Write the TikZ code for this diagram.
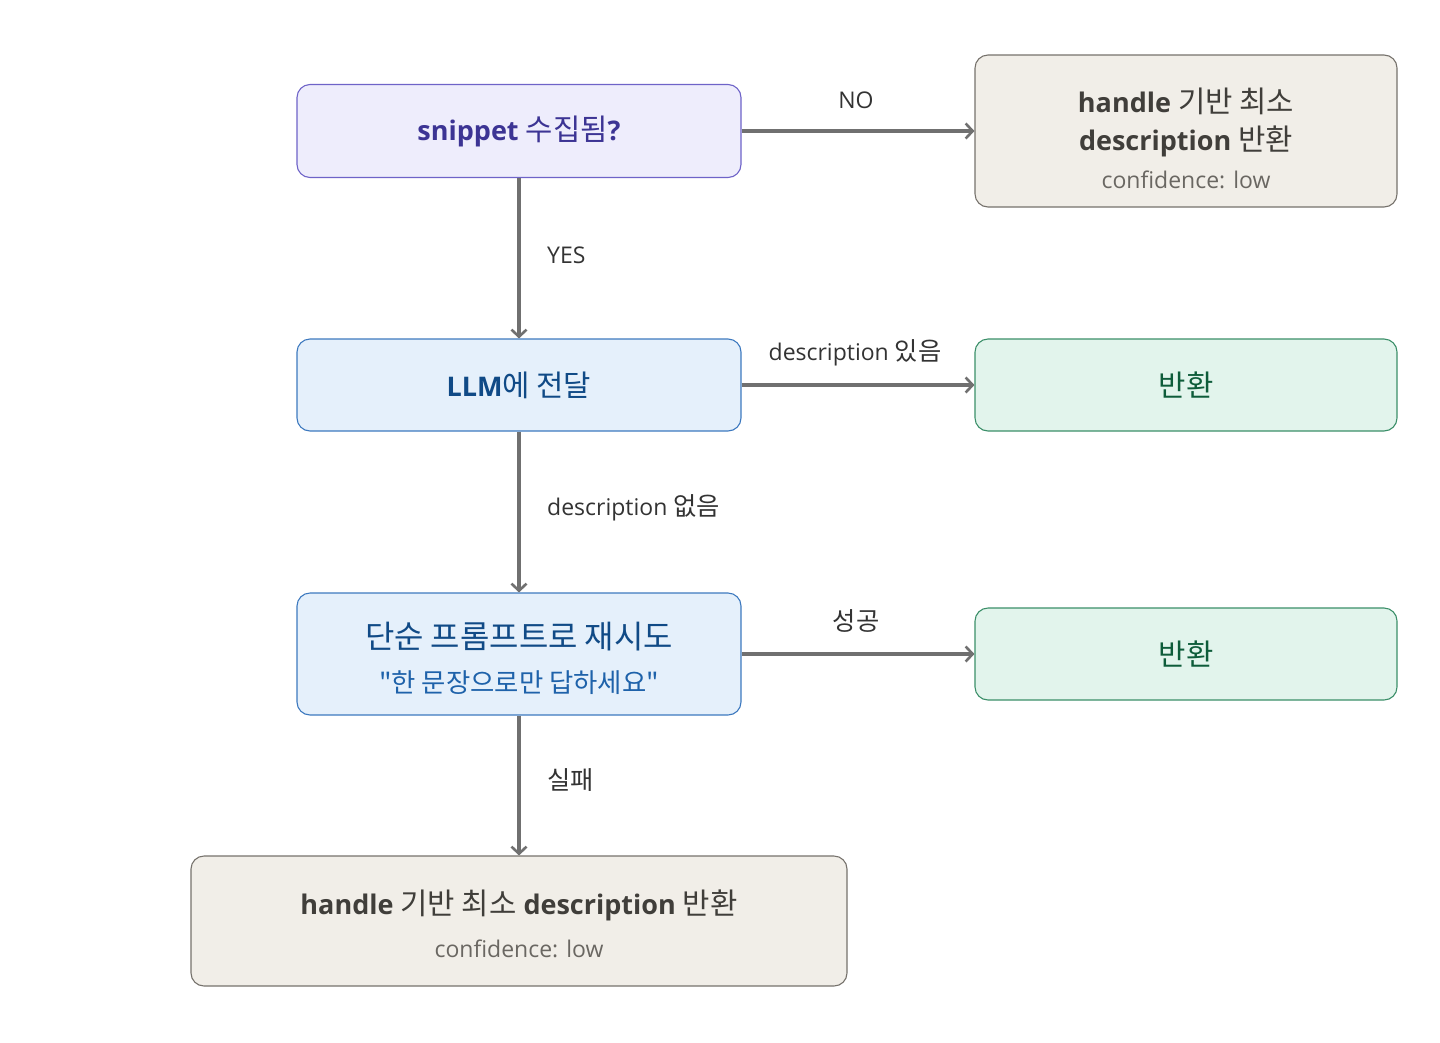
\documentclass[tikz,border=0pt]{standalone}
\usepackage{fontspec}
\setmainfont{Open Sans}
\newfontfamily\kr{Noto Sans CJK KR}[Scale=1.1]
\newfontfamily\krq{Noto Sans CJK KR}[Scale=1.1,Ligatures=TeXOff]
\usetikzlibrary{arrows.meta}
\definecolor{purpfill}{HTML}{EEEDFC}
\definecolor{purpline}{HTML}{6E63C8}
\definecolor{purptext}{HTML}{3C3494}
\definecolor{greyfill}{HTML}{F1EEE8}
\definecolor{greyline}{HTML}{76726C}
\definecolor{greytext}{HTML}{403E3A}
\definecolor{greysub}{HTML}{6A6762}
\definecolor{bluefill}{HTML}{E5F0FB}
\definecolor{blueline}{HTML}{3D79BF}
\definecolor{bluetext}{HTML}{104A86}
\definecolor{bluesub}{HTML}{1E62AA}
\definecolor{greenfill}{HTML}{E2F4EC}
\definecolor{greenline}{HTML}{3B8F69}
\definecolor{greentext}{HTML}{0E5C3A}
\definecolor{arrowc}{HTML}{707070}
\definecolor{labelc}{HTML}{333333}
\tikzset{
  x=1pt,y=-1pt,
  box/.style={draw, line width=1.1pt, rounded corners=13pt, inner sep=0pt, align=center},
  boxtxt/.style={inner sep=0pt, align=center},
  purplebox/.style={box, fill=purpfill, draw=purpline, text=purptext},
  greybox/.style={box, fill=greyfill, draw=greyline, text=greytext},
  bluebox/.style={box, fill=bluefill, draw=blueline, text=bluetext},
  greenbox/.style={box, fill=greenfill, draw=greenline, text=greentext},
  conn/.style={draw=arrowc, line width=3.2pt, -{Straight Barb[length=7pt,width=15pt,line width=2.6pt]}},
  lbl/.style={text=labelc, font=\fontsize{23}{28}\selectfont, inner sep=0pt},
  big/.style={font=\fontsize{27}{38}\selectfont},
}
\newcommand{\subsz}{\fontsize{23}{38}\selectfont}
\begin{document}
\begin{tikzpicture}
\useasboundingbox (0,0) rectangle (1440,1042);
% boxes
\node[purplebox, big, minimum width=444pt, minimum height=93pt] (a) at (519,131)
  {\textbf{snippet} {\kr 수집됨}\textbf{?}};
\node[greybox, minimum width=422pt, minimum height=152pt,
  label={[boxtxt, text=greytext, big, yshift=-7.5pt]center:{\textbf{handle} {\kr 기반 최소}\\
   \textbf{description} {\kr 반환}\\
   {\color{greysub}\subsz confidence: low}}}] (b) at (1186,131) {};
\node[bluebox, big, minimum width=444pt, minimum height=92pt] (c) at (519,385)
  {\textbf{LLM}{\kr 에 전달}};
\node[greenbox, big, minimum width=422pt, minimum height=92pt] (d) at (1186,385)
  {\kr 반환};
\node[bluebox, minimum width=444pt, minimum height=122pt,
  label={[boxtxt, text=bluetext, font=\fontsize{29}{44}\selectfont, yshift=-4pt]center:{{\kr 단순 프롬프트로 재시도}\\
   {\color{bluesub}\fontsize{24}{44}\selectfont\krq "한 문장으로만 답하세요"}}}] (e) at (519,654) {};
\node[greenbox, big, minimum width=422pt, minimum height=92pt] (f) at (1186,654)
  {\kr 반환};
\node[greybox, minimum width=656pt, minimum height=130pt,
  label={[boxtxt, text=greytext, font=\fontsize{27}{43}\selectfont, yshift=-2.5pt]center:{\textbf{handle} {\kr 기반 최소} \textbf{description} {\kr 반환}\\
   {\color{greysub}\fontsize{23}{43}\selectfont confidence: low}}}] (g) at (519,921) {};
% connectors
\draw[conn] (a.east) -- (b.west);
\draw[conn] (a.south) -- (c.north);
\draw[conn] (c.east) -- (d.west);
\draw[conn] (c.south) -- (e.north);
\draw[conn] (e.east) -- (e.east -| f.west);
\draw[conn] (e.south) -- (g.north);
% labels
\node[lbl] (la) at (856,100) {NO};
\node[lbl, anchor=west] (lb) at (547,255) {YES};
\node[lbl] (lc) at (855,353) {description {\kr 있음}};
\node[lbl, anchor=west] (ld) at (547,508) {description {\kr 없음}};
\node[lbl] (le) at (856,621) {\kr 성공};
\node[lbl, anchor=west] (lf) at (547,780) {\kr 실패};
\end{tikzpicture}
\end{document}
